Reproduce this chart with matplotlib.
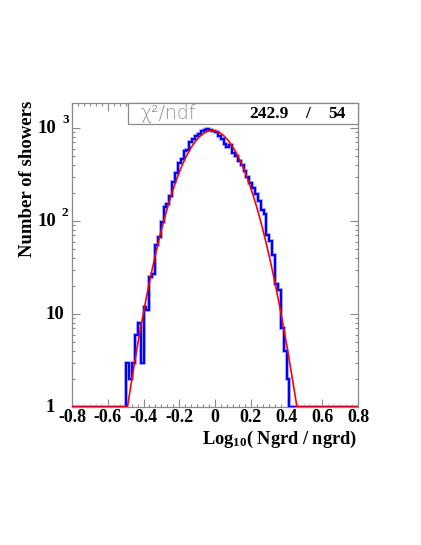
import numpy as np
import matplotlib
matplotlib.use('Agg')
import matplotlib.pyplot as plt
from matplotlib.ticker import FixedLocator, MultipleLocator, NullFormatter
from matplotlib.patches import Rectangle
from matplotlib.transforms import ScaledTranslation

plt.rcParams['mathtext.default'] = 'regular'

# ---------------- data ----------------
x_min, x_max, n_bins = -0.8, 0.8, 100
first_filled_bin = 19
counts_filled = [3, 2, 3, 6, 8, 3, 12, 11, 25, 27,
                 55, 68, 98, 143, 151, 185, 260, 330, 420, 470,
                 565, 575, 700, 770, 830, 870, 930, 960, 970, 960,
                 930, 900, 830, 770, 680, 620, 650, 545, 495, 445,
                 400, 345, 295, 255, 225, 194, 164, 130, 118, 70,
                 61, 43, 21, 18, 7, 4, 2]
fit_amp, fit_mean, fit_sigma = 940.0, -0.016, 0.128
chi2_text, ndf_text = "242.9", "54"
x_ticks = [-0.8, -0.6, -0.4, -0.2, 0.0, 0.2, 0.4, 0.6, 0.8]
x_tick_labels = ['-0.8', '-0.6', '-0.4', '-0.2', '0', '0.2', '0.4', '0.6', '0.8']
y_ticks = [1, 10, 100, 1000]
y_tick_bases = ['1', '10', '10', '10']
y_tick_exps = ['', '', '2', '3']
y_min, y_max = 1.0, 1860.0

# ---------------- build ----------------
edges = np.linspace(x_min, x_max, n_bins + 1)
counts = np.zeros(n_bins)
counts[first_filled_bin:first_filled_bin + len(counts_filled)] = counts_filled
xf = np.linspace(x_min, x_max, 1200)
fit = fit_amp * np.exp(-0.5 * ((xf - fit_mean) / fit_sigma) ** 2)

W, H = 421, 545
fig = plt.figure(figsize=(W / 100, H / 100), dpi=100)
L, R, T, B = 72, 358, 103, 407
ax = fig.add_axes([L / W, 1 - B / H, (R - L) / W, (B - T) / H])

serif = 'Liberation Serif'
gray = '#8a8a8a'

ax.stairs(np.maximum(counts, y_min), edges, baseline=None, color='#b8b8ff', lw=2.8, zorder=2)
ax.stairs(np.maximum(counts, y_min), edges, baseline=None, color='#0000ff', lw=1.6, zorder=3)
ax.plot(xf, np.maximum(fit, y_min), color='#ff0000', lw=1.2, zorder=4)

ax.set_xlim(x_min, x_max)
ax.set_yscale('log')
ax.set_ylim(y_min, y_max)

for s in ax.spines.values():
    s.set_color(gray)
    s.set_linewidth(0.9)

ax.set_xticks(x_ticks)
ax.set_xticklabels(x_tick_labels, fontfamily=serif, fontweight='bold', fontsize=13)
ax.xaxis.set_minor_locator(MultipleLocator(0.2 / 6))
ax.yaxis.set_major_locator(FixedLocator(y_ticks))
ax.yaxis.set_minor_locator(FixedLocator([m * 10 ** e for e in range(0, 4) for m in range(2, 10)]))
ax.yaxis.set_major_formatter(NullFormatter())
ax.yaxis.set_minor_formatter(NullFormatter())
ax.tick_params(which='both', direction='in', top=True, right=True, color=gray, width=0.8)
ax.tick_params(which='major', length=5.5)
ax.tick_params(which='minor', length=2.5)
ax.tick_params(axis='x', pad=1.5)

# y tick labels
pxx = 1.0 / (R - L)
for v, b, e in zip(y_ticks, y_tick_bases, y_tick_exps):
    if e:
        ax.text(-16 * pxx, v, b, transform=ax.get_yaxis_transform(), ha='right', va='center',
                fontfamily=serif, fontweight='bold', fontsize=13.5)
        tr = ax.get_yaxis_transform() + ScaledTranslation(0, 8 / 100, fig.dpi_scale_trans)
        ax.text(-10 * pxx, v, e, transform=tr, ha='left', va='center',
                fontfamily=serif, fontweight='bold', fontsize=9.5)
    else:
        xr = -8 * pxx if b == '10' else -17 * pxx
        ax.text(xr, v, b, transform=ax.get_yaxis_transform(), ha='right', va='center',
                fontfamily=serif, fontweight='bold', fontsize=13.5)

# axis titles
fig.text(28 / W, 1 - 101 / H, 'Number of showers', rotation=90, ha='center', va='top',
         fontfamily=serif, fontweight='bold', fontsize=13.5)
fig.text(357 / W, 1 - 429 / H, 'Log$_{10}$( Ngrd / ngrd)', ha='right', va='top',
         fontfamily=serif, fontweight='bold', fontsize=13.2)

# stats box
bx0 = (128 - L) / (R - L)
by0 = (B - 124) / (B - T)
ax.add_patch(Rectangle((bx0, by0), 1 - bx0, 1 - by0, transform=ax.transAxes,
                       facecolor='white', edgecolor=gray, lw=0.9, zorder=6, clip_on=False))
yc = (B - 113.5) / (B - T)
ax.text((140 - L) / (R - L), yc, 'χ²/ndf', transform=ax.transAxes, ha='left', va='center',
        fontfamily='DejaVu Sans', fontweight='light', fontsize=13.5, color='#909090', zorder=7)
ax.text((289 - L) / (R - L), yc, chi2_text, transform=ax.transAxes, ha='right', va='center',
        fontfamily=serif, fontweight='bold', fontsize=12.5, color='black', zorder=7)
ax.text((308 - L) / (R - L), yc, '/', transform=ax.transAxes, ha='center', va='center',
        fontfamily=serif, fontweight='bold', fontsize=12.5, color='black', zorder=7)
ax.text((346 - L) / (R - L), yc, ndf_text, transform=ax.transAxes, ha='right', va='center',
        fontfamily=serif, fontweight='bold', fontsize=12.5, color='black', zorder=7)

fig.savefig('out.png', dpi=100)
